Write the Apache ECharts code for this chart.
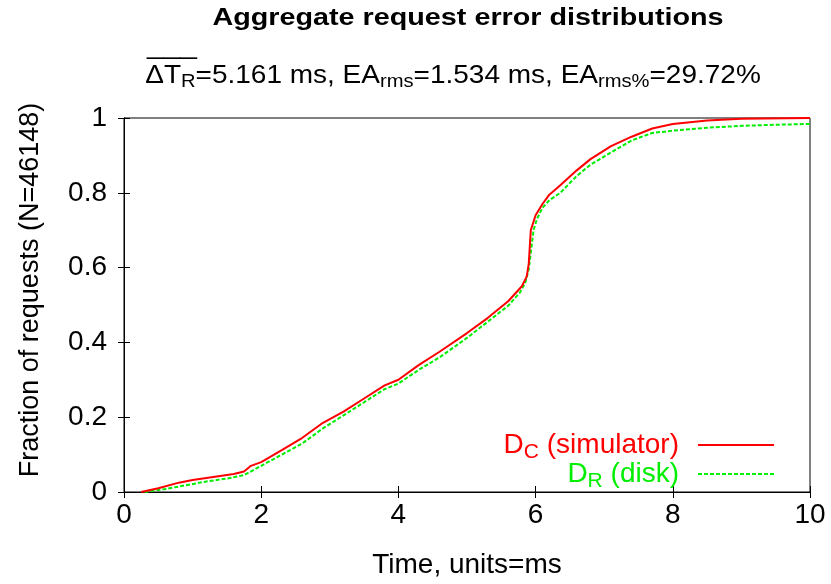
<!DOCTYPE html>
<html><head><meta charset="utf-8">
<script src="https://cdn.jsdelivr.net/npm/echarts@6/dist/echarts.min.js"></script>
<style>html,body{margin:0;padding:0;background:#fff}#c{width:831px;height:584px}</style>
</head><body><div id="c"></div>
<script>
const simT = [0.25,0.5,0.8,1.0,1.3,1.6,1.75,1.85,2.0,2.3,2.6,2.9,3.2,3.5,3.8,4.0,4.3,4.6,5.0,5.3,5.6,5.8,5.87,5.9,5.93,6.0,6.1,6.2,6.36,6.6,6.8,7.1,7.4,7.7,8.0,8.5,9.0,10];
const simY = [0,0.01,0.025,0.032,0.04,0.048,0.055,0.07,0.08,0.112,0.145,0.185,0.215,0.25,0.285,0.30,0.34,0.375,0.425,0.465,0.51,0.55,0.576,0.61,0.70,0.74,0.77,0.795,0.82,0.86,0.89,0.925,0.95,0.972,0.984,0.993,0.998,1.0];
const diskT = [0.3,0.6,0.9,1.2,1.5,1.75,1.9,2.0,2.3,2.6,2.9,3.2,3.5,3.8,4.0,4.3,4.6,5.0,5.3,5.6,5.77,5.85,5.9,5.93,5.97,6.02,6.1,6.2,6.36,6.6,6.8,7.1,7.4,7.7,8.0,8.5,9.0,9.5,10];
const diskY = [0,0.008,0.018,0.028,0.036,0.045,0.06,0.07,0.1,0.13,0.17,0.205,0.24,0.275,0.29,0.327,0.36,0.412,0.455,0.498,0.533,0.56,0.595,0.64,0.70,0.73,0.76,0.78,0.80,0.845,0.875,0.908,0.94,0.96,0.966,0.974,0.979,0.982,0.984];
const xTicks = [0,2,4,6,8,10];
const yTicks = [0,0.2,0.4,0.6,0.8,1];

const FONT = '"Liberation Sans", Arial, sans-serif';
const chart = echarts.init(document.getElementById('c'));
function legRich(color){
  return {
    a: {fontSize: 28, fontFamily: FONT, color: color},
    s: {fontSize: 21, fontFamily: FONT, color: color, padding: [14, 0, 0, 0]}
  };
}
const axisCommon = {
  type: 'value', min: 0, max: 10, interval: 2,
  axisLine: {show: true, lineStyle: {color: '#000', width: 1}},
  axisTick: {show: true, inside: true, length: 6, lineStyle: {color: '#000'}},
  splitLine: {show: false}
};
chart.setOption({
  animation: false,
  backgroundColor: '#fff',
  graphic: [{
    type: 'text', x: 468, y: 19, scaleX: 1.25,
    style: {text: 'Aggregate request error distributions', align: 'center', verticalAlign: 'middle',
      fontSize: 23, fontWeight: 'bold', fontFamily: FONT, fill: '#000'}
  }, {
    type: 'text', x: 453, y: 76, scaleX: 1.12,
    style: {
      text: '{a|ΔT}{s|R}{a|=5.161 ms, EA}{s|rms}{a|=1.534 ms, EA}{s|rms%}{a|=29.72%}',
      align: 'center', verticalAlign: 'middle',
      rich: {
        a: {fontSize: 25, fontFamily: FONT, fill: '#000', color: '#000'},
        s: {fontSize: 18, fontFamily: FONT, fill: '#000', color: '#000', padding: [12, 0, 0, 0]}
      }
    }
  }, {
    type: 'text', x: 147, y: 35, scaleX: 1.2,
    style: {text: '___', align: 'left', verticalAlign: 'top', fontSize: 25, fontFamily: FONT, fill: '#000'}
  }],
  grid: {left: 124, right: 21, top: 118, bottom: 91, show: true, borderColor: '#000', borderWidth: 1},
  legend: [{
    data: ['sim'], right: 51, top: 426, align: 'right', itemWidth: 76, itemHeight: 14, itemGap: 0,
    itemStyle: {opacity: 0},
    formatter: () => '{a|D}{s|C}{a| (simulator)}',
    textStyle: {rich: legRich('#ff0000'), padding: [0, 14, 0, 0]}
  }, {
    data: ['disk'], right: 51, top: 455, align: 'right', itemWidth: 76, itemHeight: 14, itemGap: 0,
    itemStyle: {opacity: 0},
    formatter: () => '{a|D}{s|R}{a| (disk)}',
    textStyle: {rich: legRich('#00ee00'), padding: [0, 14, 0, 0]}
  }],
  xAxis: [
    Object.assign({}, axisCommon, {
      position: 'bottom',
      axisLabel: {fontSize: 28, fontFamily: FONT, color: '#000', margin: 9},
      name: 'Time, units=ms', nameLocation: 'middle', nameGap: 59,
      nameTextStyle: {fontSize: 28, fontFamily: FONT, color: '#000'}
    }),
    Object.assign({}, axisCommon, {position: 'top', axisLabel: {show: false}})
  ],
  yAxis: [
    Object.assign({}, axisCommon, {
      min: 0, max: 1, interval: 0.2, position: 'left',
      axisLabel: {fontSize: 28, fontFamily: FONT, color: '#000', margin: 17, formatter: v => String(+v.toFixed(1))},
      name: 'Fraction of requests (N=46148)', nameLocation: 'middle', nameGap: 80,
      nameTextStyle: {fontSize: 27, fontFamily: FONT, color: '#000', padding: [0, 0, 0, 30]}
    }),
    Object.assign({}, axisCommon, {min: 0, max: 1, interval: 0.2, position: 'right', axisLabel: {show: false}})
  ],
  series: [{
    name: 'sim', type: 'line', showSymbol: false, symbol: 'none',
    data: simT.map((t, i) => [t, simY[i]]),
    lineStyle: {color: '#ff0000', width: 2}, itemStyle: {color: '#ff0000'}, z: 3
  }, {
    name: 'disk', type: 'line', showSymbol: false, symbol: 'none',
    data: diskT.map((t, i) => [t, diskY[i]]),
    lineStyle: {color: '#00ee00', width: 2, type: [4, 2]}, itemStyle: {color: '#00ee00'}, z: 2
  }]
});
</script></body></html>
